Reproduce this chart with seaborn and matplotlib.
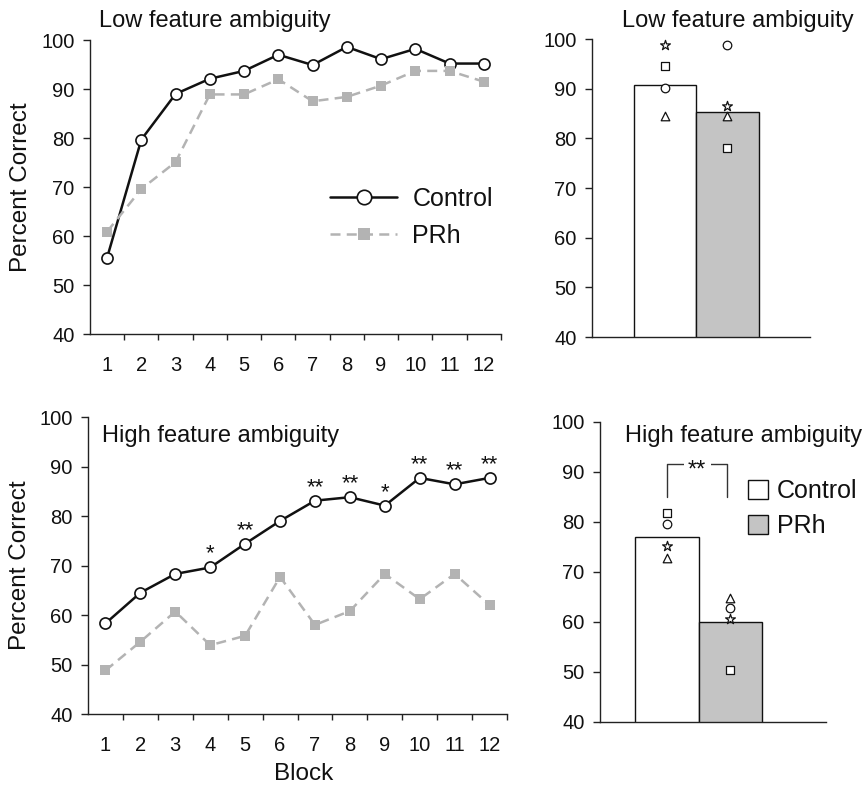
import numpy as np
import pandas as pd
import seaborn as sns
import matplotlib.pyplot as plt
from matplotlib.patches import Patch

# ---------------------------------------------------------------------------
# Data
# ---------------------------------------------------------------------------
blocks = list(range(1, 13))

low_control = [55.6, 79.7, 89.0, 92.1, 93.7, 97.0, 94.9, 98.6, 96.1, 98.2, 95.2, 95.2]
low_prh = [60.9, 69.6, 75.1, 88.9, 88.9, 92.0, 87.5, 88.4, 90.7, 93.7, 93.7, 91.5]

high_control = [58.3, 64.5, 68.3, 69.6, 74.4, 79.0, 83.1, 83.8, 82.1, 87.7, 86.4, 87.7]
high_prh = [48.8, 54.6, 60.7, 53.9, 55.8, 67.7, 58.0, 60.8, 68.3, 63.2, 68.3, 62.0]
high_sig = ["", "", "", "*", "**", "", "**", "**", "*", "**", "**", "**"]

groups = ["Control", "PRh"]
low_mean = [90.7, 85.4]
high_mean = [76.9, 59.9]

subjects = ["star", "square", "circle", "triangle"]
low_ctrl_subj = [98.8, 94.6, 90.2, 84.5]
low_prh_subj = [86.5, 78.0, 98.8, 84.5]
high_ctrl_subj = [75.2, 81.7, 79.5, 72.8]
high_prh_subj = [60.5, 50.3, 62.7, 64.7]

yticks = [40, 50, 60, 70, 80, 90, 100]

# ---------------------------------------------------------------------------
# Style
# ---------------------------------------------------------------------------
sns.set_theme(style="ticks")
plt.rcParams["font.family"] = ["Liberation Sans", "DejaVu Sans"]
plt.rcParams["axes.linewidth"] = 1.0
plt.rcParams["axes.edgecolor"] = "#222222"
plt.rcParams["text.color"] = "#111111"
plt.rcParams["axes.labelcolor"] = "#111111"
plt.rcParams["xtick.labelcolor"] = "#111111"
plt.rcParams["ytick.labelcolor"] = "#111111"

BLACK = "#111111"
GREY_LINE = "#b3b3b3"
GREY_BAR = "#c4c4c4"
TICK_FS = 14.5
TITLE_FS = 17
LABEL_FS = 17.5
LEGEND_FS = 18

subject_markers = {"star": "*", "square": "s", "circle": "o", "triangle": "^"}
subject_sizes = {"star": 55, "square": 36, "circle": 38, "triangle": 38}

fig = plt.figure(figsize=(8.67, 7.88), dpi=100)
ax_tl = fig.add_axes([0.1038, 0.5761, 0.4740, 0.3731])
ax_bl = fig.add_axes([0.1015, 0.0939, 0.4833, 0.3769])
ax_tr = fig.add_axes([0.6828, 0.5723, 0.2514, 0.3782])
ax_br = fig.add_axes([0.6920, 0.0838, 0.2607, 0.3807])


def style_yaxis(ax):
    ax.set_ylim(40, 100)
    ax.set_yticks(yticks)
    ax.tick_params(axis="y", direction="out", length=5, width=1, pad=6,
                   labelsize=TICK_FS, color="#222222")
    sns.despine(ax=ax)


def line_panel(ax, control, prh):
    sns.lineplot(x=blocks, y=control, ax=ax, color=BLACK, linewidth=1.8,
                 marker="o", markersize=8, markerfacecolor="white",
                 markeredgecolor=BLACK, markeredgewidth=1.2, label="Control")
    sns.lineplot(x=blocks, y=prh, ax=ax, color=GREY_LINE, linewidth=1.8,
                 linestyle=(0, (4, 2.5)), marker="s", markersize=7,
                 markerfacecolor=GREY_LINE, markeredgecolor=GREY_LINE,
                 markeredgewidth=0, label="PRh")
    ax.set_xlim(0.5, 12.5)
    ax.set_xticks(blocks)
    ax.set_xticks(np.arange(1.5, 13, 1), minor=True)
    ax.tick_params(axis="x", which="major", length=0, pad=16, labelsize=TICK_FS)
    ax.tick_params(axis="x", which="minor", direction="out", length=4, width=1,
                   color="#222222")
    style_yaxis(ax)
    ax.set_xlabel("")
    ax.set_ylabel("Percent Correct", fontsize=LABEL_FS)


def bar_panel(ax, means, ctrl_subj, prh_subj):
    bars = pd.DataFrame({"group": groups, "value": means})
    sns.barplot(data=bars, x="group", y="value", hue="group",
                palette={"Control": "white", "PRh": GREY_BAR},
                width=1.0, edgecolor=BLACK, linewidth=1.0, legend=False, ax=ax)
    pts = pd.DataFrame({
        "pos": [0] * len(subjects) + [1] * len(subjects),
        "value": ctrl_subj + prh_subj,
        "subject": subjects * 2,
    })
    for subj, sub in pts.groupby("subject"):
        sns.scatterplot(data=sub, x="pos", y="value", marker=subject_markers[subj],
                        s=subject_sizes[subj], color="white", edgecolor=BLACK,
                        linewidth=0.9, legend=False, ax=ax, zorder=5, clip_on=False)
    ax.set_xticks([])
    ax.set_xlabel("")
    ax.set_ylabel("")
    style_yaxis(ax)


# --- top left: low ambiguity learning curves ---
line_panel(ax_tl, low_control, low_prh)
ax_tl.yaxis.set_label_coords(-0.141, 0.5)
ax_tl.text(0.022, 1.044, "Low feature ambiguity", transform=ax_tl.transAxes,
           fontsize=TITLE_FS, va="baseline", ha="left")
ax_tl.legend(loc="upper left", bbox_to_anchor=(0.584, 0.50), frameon=False,
             fontsize=LEGEND_FS, handlelength=2.7, handletextpad=0.6,
             borderpad=0, borderaxespad=0, labelspacing=0.5, markerscale=1.3)

# --- bottom left: high ambiguity learning curves ---
line_panel(ax_bl, high_control, high_prh)
ax_bl.yaxis.set_label_coords(-0.136, 0.5)
ax_bl.set_xlabel("Block", fontsize=LABEL_FS)
ax_bl.xaxis.set_label_coords(0.515, -0.165)
ax_bl.text(0.033, 0.916, "High feature ambiguity", transform=ax_bl.transAxes,
           fontsize=TITLE_FS, va="baseline", ha="left")
for b, c, s in zip(blocks, high_control, high_sig):
    if s:
        ax_bl.text(b, c + 1.6, s, ha="center", va="baseline", fontsize=16)
ax_bl.get_legend().remove()

# --- top right: low ambiguity means ---
bar_panel(ax_tr, low_mean, low_ctrl_subj, low_prh_subj)
ax_tr.set_xlim(-1.168, 2.32)
ax_tr.text(0.138, 1.040, "Low feature ambiguity", transform=ax_tr.transAxes,
           fontsize=TITLE_FS, va="baseline", ha="left", clip_on=False)

# --- bottom right: high ambiguity means ---
bar_panel(ax_br, high_mean, high_ctrl_subj, high_prh_subj)
ax_br.set_xlim(-1.055, 2.504)
ax_br.text(0.111, 0.933, "High feature ambiguity", transform=ax_br.transAxes,
           fontsize=TITLE_FS, va="baseline", ha="left", clip_on=False)
ax_br.plot([0, 0, 0.95, 0.95], [85.0, 91.5, 91.5, 85.0], color="#333333", lw=1.0)
ax_br.text(0.475, 89.0, "**", ha="center", va="baseline", fontsize=17,
           bbox=dict(facecolor="white", edgecolor="none", pad=3))
handles = [Patch(facecolor="white", edgecolor=BLACK, linewidth=1.0),
           Patch(facecolor=GREY_BAR, edgecolor=BLACK, linewidth=1.0)]
ax_br.legend(handles, groups, loc="upper left", bbox_to_anchor=(0.655, 0.81),
             frameon=False, fontsize=LEGEND_FS, handlelength=0.8, handleheight=0.8,
             handletextpad=0.35, borderpad=0, borderaxespad=0, labelspacing=0.45)

fig.savefig("out.png", dpi=100)
